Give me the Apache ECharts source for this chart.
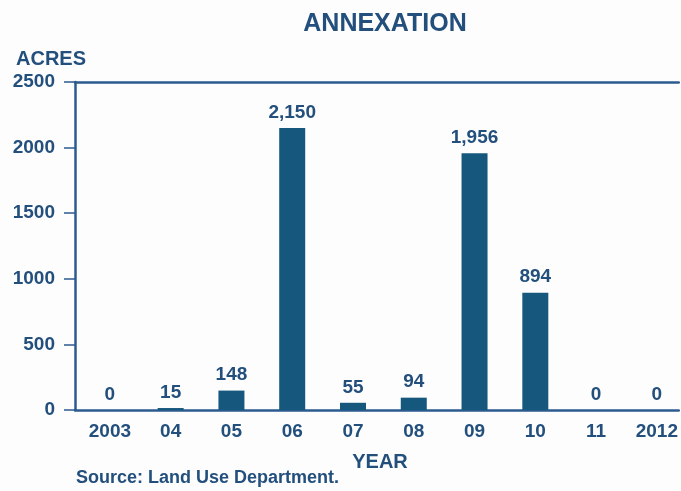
<!DOCTYPE html>
<html>
<head>
<meta charset="utf-8">
<script src="https://cdn.jsdelivr.net/npm/echarts@6/dist/echarts.min.js"></script>
<style>
  html, body { margin: 0; padding: 0; background: #fdfdfd; }
  #chart { width: 681px; height: 491px; }
</style>
</head>
<body>
<div id="chart"></div>
<script>
// Annexed land per year, in acres
const years = ['2003', '04', '05', '06', '07', '08', '09', '10', '11', '2012'];
const acres = [0, 15, 148, 2150, 55, 94, 1956, 894, 0, 0];
const yTicks = [0, 500, 1000, 1500, 2000, 2500];

const ink = '#234f7d';
const barColor = '#16577d';
const lineColor = '#2b5b8e';
const font = 'Liberation Sans, Arial, sans-serif';

const chart = echarts.init(document.getElementById('chart'), null, { renderer: 'canvas' });

const idx = years.map((_, i) => i);

chart.setOption({
  backgroundColor: '#fdfdfd',
  animation: false,
  title: [
    { text: 'ANNEXATION', left: 380, top: 7, textAlign: 'center',
      textStyle: { fontFamily: font, fontWeight: 'bold', fontSize: 25, color: ink } },
    { text: 'ACRES', left: 11, top: 44,
      textStyle: { fontFamily: font, fontWeight: 'bold', fontSize: 20, color: ink } },
    { text: 'YEAR', left: 375, top: 447, textAlign: 'center',
      textStyle: { fontFamily: font, fontWeight: 'bold', fontSize: 20, color: ink } },
    { text: 'Source: Land Use Department.', left: 71, top: 464,
      textStyle: { fontFamily: font, fontWeight: 'bold', fontSize: 18, color: ink } }
  ],
  grid: { left: 75, right: 0, top: 82, bottom: 81, show: false },
  xAxis: [{
    type: 'value',
    min: -0.574,
    max: 9.36,
    splitLine: { show: false },
    axisLine: { show: true, onZero: false, lineStyle: { color: lineColor, width: 2.5 } },
    axisTick: { show: false },
    axisLabel: {
      customValues: idx,
      formatter: v => years[Math.round(v)],
      margin: 12,
      fontFamily: font, fontWeight: 'bold', fontSize: 19, color: ink
    }
  }, {
    // top frame line at the 2500 level
    type: 'value', position: 'top',
    min: 0, max: 1,
    splitLine: { show: false },
    axisLine: { show: true, onZero: false, lineStyle: { color: lineColor, width: 2.5 } },
    axisTick: { show: false },
    axisLabel: { show: false }
  }],
  yAxis: {
    type: 'value',
    min: 0,
    max: 2500,
    interval: 500,
    splitLine: { show: false },
    axisLine: { show: true, onZero: false, lineStyle: { color: lineColor, width: 2.5 } },
    axisTick: { show: true, length: 11, lineStyle: { color: lineColor, width: 1.5 } },
    axisLabel: {
      customValues: yTicks,
      formatter: v => String(v),
      margin: 20,
      fontFamily: font, fontWeight: 'bold', fontSize: 19, color: ink
    }
  },
  series: [{
    type: 'bar',
    xAxisIndex: 0,
    barWidth: 26,
    data: acres.map((v, i) => [i, v]),
    itemStyle: { color: barColor },
    label: {
      show: true,
      position: 'top',
      distance: 6,
      formatter: p => p.value[1].toLocaleString('en-US'),
      fontFamily: font, fontWeight: 'bold', fontSize: 19, color: ink
    }
  }]
});
</script>
</body>
</html>
